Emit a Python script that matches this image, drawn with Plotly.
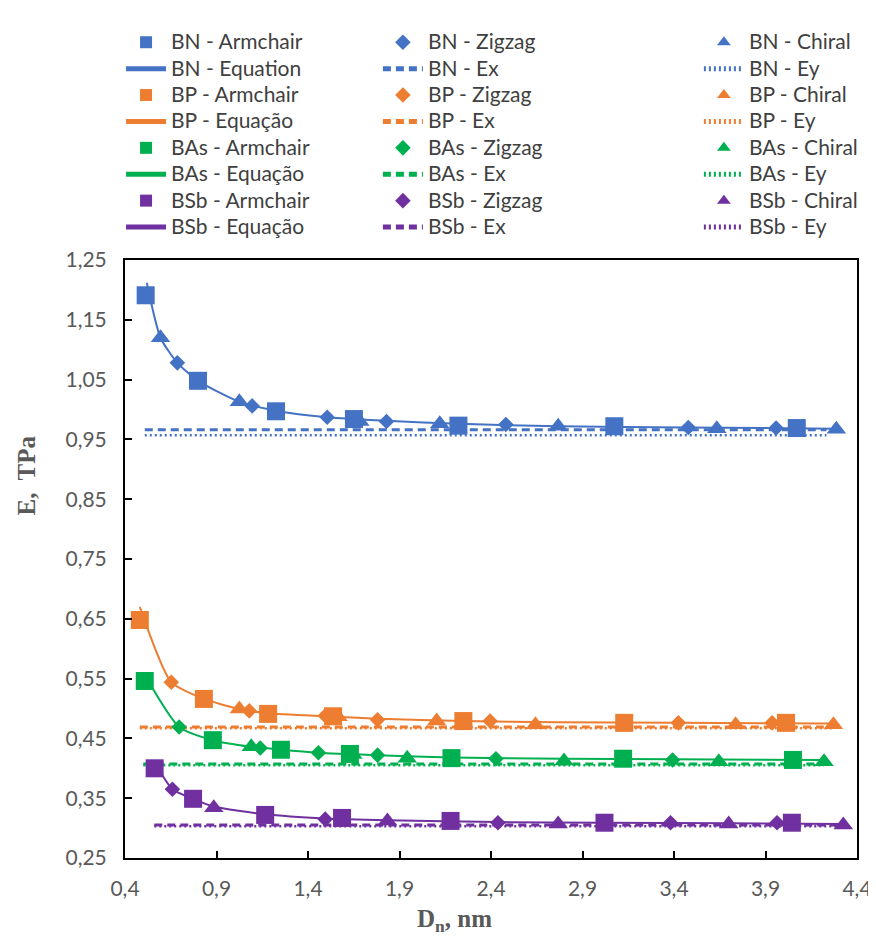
import plotly.graph_objects as go

# ---------------- data ----------------
materials = ["BN", "BP", "BAs", "BSb"]
eq_names = ["BN - Equation", "BP - Equação", "BAs - Equação", "BSb - Equação"]
colors = ["#4472C4", "#ED7D31", "#00B050", "#7030A0"]

arm_x = {
    "BN": [0.513, 0.799, 1.225, 1.651, 2.222, 3.074, 4.071],
    "BP": [0.481, 0.831, 1.182, 1.537, 2.249, 3.128, 4.012],
    "BAs": [0.508, 0.880, 1.252, 1.629, 2.184, 3.122, 4.050],
    "BSb": [0.562, 0.772, 1.166, 1.586, 2.179, 3.020, 4.044],
}
arm_y = {
    "BN": [1.191, 1.048, 0.997, 0.984, 0.973, 0.972, 0.969],
    "BP": [0.648, 0.516, 0.491, 0.487, 0.479, 0.476, 0.476],
    "BAs": [0.546, 0.447, 0.431, 0.424, 0.417, 0.416, 0.414],
    "BSb": [0.400, 0.349, 0.322, 0.317, 0.312, 0.309, 0.309],
}
zig_x = {
    "BN": [0.686, 1.095, 1.505, 1.829, 2.481, 3.478, 3.958],
    "BP": [0.653, 1.079, 1.494, 1.780, 2.395, 3.424, 3.936],
    "BAs": [0.696, 1.139, 1.457, 1.780, 2.427, 3.392],
    "BSb": [0.659, 1.494, 2.438, 3.381, 3.963],
}
zig_y = {
    "BN": [1.078, 1.006, 0.987, 0.980, 0.975, 0.970, 0.969],
    "BP": [0.544, 0.496, 0.488, 0.481, 0.479, 0.476, 0.476],
    "BAs": [0.469, 0.434, 0.426, 0.422, 0.416, 0.414],
    "BSb": [0.365, 0.315, 0.309, 0.309, 0.309],
}
chi_x = {
    "BN": [0.594, 1.025, 1.683, 2.120, 2.767, 3.634, 4.287],
    "BP": [1.025, 1.564, 2.103, 2.643, 3.737, 4.271],
    "BAs": [1.090, 1.645, 1.942, 2.799, 3.645, 4.220],
    "BSb": [0.885, 1.834, 2.767, 3.699, 4.325],
}
chi_y = {
    "BN": [1.120, 1.013, 0.980, 0.976, 0.972, 0.968, 0.967],
    "BP": [0.499, 0.486, 0.479, 0.473, 0.473, 0.473],
    "BAs": [0.436, 0.423, 0.417, 0.412, 0.411, 0.411],
    "BSb": [0.334, 0.312, 0.307, 0.307, 0.305],
}
eq_x = {
    "BN": [0.519, 0.594, 0.686, 0.799, 1.025, 1.225, 1.505, 1.829, 2.222, 2.767, 3.478, 4.287],
    "BP": [0.481, 0.653, 0.831, 1.025, 1.182, 1.494, 1.780, 2.249, 2.767, 3.424, 4.271],
    "BAs": [0.508, 0.696, 0.880, 1.090, 1.252, 1.457, 1.780, 2.184, 2.799, 3.392, 4.220],
    "BSb": [0.562, 0.659, 0.772, 0.885, 1.166, 1.494, 1.834, 2.438, 3.020, 3.699, 4.325],
}
eq_y = {
    "BN": [1.212, 1.120, 1.078, 1.048, 1.013, 0.998, 0.987, 0.981, 0.976, 0.972, 0.970, 0.968],
    "BP": [0.670, 0.544, 0.516, 0.499, 0.492, 0.487, 0.483, 0.479, 0.477, 0.476, 0.475],
    "BAs": [0.556, 0.469, 0.447, 0.436, 0.431, 0.426, 0.422, 0.418, 0.416, 0.415, 0.414],
    "BSb": [0.410, 0.365, 0.349, 0.336, 0.323, 0.316, 0.313, 0.310, 0.309, 0.308, 0.307],
}
ex_val = {"BN": 0.966, "BP": 0.469, "BAs": 0.407, "BSb": 0.305}
ey_val = {"BN": 0.957, "BP": 0.467, "BAs": 0.405, "BSb": 0.303}
ex_span = {"BN": [0.508, 4.233], "BP": [0.481, 4.270], "BAs": [0.500, 4.220], "BSb": [0.560, 4.330]}

x_ticks = [0.4, 0.9, 1.4, 1.9, 2.4, 2.9, 3.4, 3.9, 4.4]
y_ticks = [0.25, 0.35, 0.45, 0.55, 0.65, 0.75, 0.85, 0.95, 1.05, 1.15, 1.25]
x_title = "D<sub>n</sub>, nm"
y_title = "E,  TPa"

# ---------------- figure ----------------
FONT = "Lato, Liberation Sans, sans-serif"
GRAY = "#595959"
TXT = "#404040"


def lab(s):
    return f"<span style='font-size:21px'>{s}</span>"


fig = go.Figure()
for m, c, eqn in zip(materials, colors, eq_names):
    fig.add_trace(go.Scatter(x=arm_x[m], y=arm_y[m], mode="markers", name=lab(f"{m} - Armchair"),
                             marker=dict(symbol="square", size=18, color=c),
                             legend="legend", legendgroup=f"{m}a"))
    fig.add_trace(go.Scatter(x=zig_x[m], y=zig_y[m], mode="markers", name=lab(f"{m} - Zigzag"),
                             marker=dict(symbol="diamond", size=12, color=c),
                             legend="legend2", legendgroup=f"{m}z"))
    fig.add_trace(go.Scatter(x=chi_x[m], y=chi_y[m], mode="markers", name=lab(f"{m} - Chiral"),
                             marker=dict(symbol="triangle-up", size=17, color=c),
                             legend="legend3", legendgroup=f"{m}c"))
    fig.add_trace(go.Scatter(x=eq_x[m], y=eq_y[m], mode="lines", name=lab(eqn),
                             line=dict(color=c, width=2, shape="spline", smoothing=0.6),
                             legend="legend", legendgroup=f"{m}e"))
    fig.add_trace(go.Scatter(x=ex_span[m], y=[ex_val[m]] * 2, mode="lines", name=lab(f"{m} - Ex"),
                             line=dict(color=c, width=3, dash="8px,5px"),
                             legend="legend2", legendgroup=f"{m}x"))
    fig.add_trace(go.Scatter(x=ex_span[m], y=[ey_val[m]] * 2, mode="lines", name=lab(f"{m} - Ey"),
                             line=dict(color=c, width=2.5, dash="2px,3px"),
                             legend="legend3", legendgroup=f"{m}y"))

leg_common = dict(font=dict(family=FONT, size=18, color=TXT), bgcolor="rgba(0,0,0,0)",
                  itemsizing="constant", itemwidth=40, tracegroupgap=0, yanchor="top",
                  xanchor="left", orientation="v")
ly = 1.3946
fig.update_layout(
    width=876, height=938,
    margin=dict(l=117, r=17, t=252, b=88),
    paper_bgcolor="white", plot_bgcolor="white",
    separators=",.",
    showlegend=True,
    legend=dict(x=-0.0054, y=ly, **leg_common),
    legend2=dict(x=0.3455, y=ly, **leg_common),
    legend3=dict(x=0.7840, y=ly, **leg_common),
    xaxis=dict(range=[0.4, 4.4], tickvals=x_ticks, tickformat=".1f",
               showline=True, linecolor="black", linewidth=2, mirror=True,
               ticks="inside", ticklen=7, tickwidth=1.5, tickcolor="black",
               showgrid=False, zeroline=False, ticklabelstandoff=11,
               tickfont=dict(family=FONT, size=21, color=GRAY)),
    yaxis=dict(range=[0.25, 1.25], tickvals=y_ticks, tickformat=".2f",
               showline=True, linecolor="black", linewidth=2, mirror=True,
               ticks="inside", ticklen=7, tickwidth=1.5, tickcolor="black",
               showgrid=False, zeroline=False, ticklabelstandoff=12,
               tickfont=dict(family=FONT, size=21, color=GRAY)),
    annotations=[
        dict(text=x_title, xref="paper", yref="paper", x=0.45, y=-0.104,
             xanchor="center", yanchor="middle", showarrow=False,
             font=dict(family="Liberation Serif", size=25, color=GRAY, weight="bold")),
        dict(text=y_title, xref="paper", yref="paper", x=-0.135, y=0.64, textangle=-90,
             xanchor="center", yanchor="middle", showarrow=False,
             font=dict(family="Liberation Serif", size=25, color=GRAY, weight="bold")),
    ],
)

fig.write_html("out.html")
